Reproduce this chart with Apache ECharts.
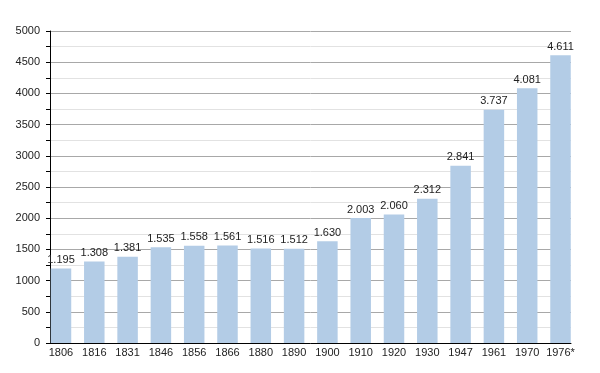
<!DOCTYPE html>
<html>
<head>
<meta charset="utf-8">
<script src="https://cdn.jsdelivr.net/npm/echarts@6/dist/echarts.min.js"></script>
<style>html,body{margin:0;padding:0;background:#fff}#c{width:600px;height:373px}</style>
</head>
<body>
<div id="c"></div>
<script>
const years = ['1806','1816','1831','1846','1856','1866','1880','1890','1900','1910','1920','1930','1947','1961','1970','1976*'];
const population = [1195,1308,1381,1535,1558,1561,1516,1512,1630,2003,2060,2312,2841,3737,4081,4611];
const yTicks = [0,500,1000,1500,2000,2500,3000,3500,4000,4500,5000];

const font = '"Liberation Sans", Arial, Helvetica, sans-serif';
const chart = echarts.init(document.getElementById('c'));
const idx = years.map((y,i)=>i);
const yMin = yTicks[0], yMax = yTicks[yTicks.length-1];
chart.setOption({
  animation: false,
  grid: {left: 50, right: 29, top: 31, bottom: 30},
  xAxis: {
    type: 'value', min: -0.33, max: 15.315,
    axisLine: {show: true, onZero: false, lineStyle: {color: '#000', width: 1}},
    axisTick: {show: false},
    splitLine: {show: false},
    axisLabel: {customValues: idx, formatter: v => years[Math.round(v)], margin: 4,
      fontFamily: font, fontSize: 11, color: '#222'}
  },
  yAxis: {
    type: 'value', min: yMin, max: yMax, interval: 500, position: 'left',
    axisLine: {show: true, onZero: false, lineStyle: {color: '#000', width: 1}},
    axisTick: {show: true, inside: false, length: 4, lineStyle: {color: '#000'}},
    minorTick: {show: true, splitNumber: 2, length: 4, lineStyle: {color: '#000'}},
    splitLine: {show: true, lineStyle: {color: '#a8a8a8', width: 1}},
    minorSplitLine: {show: true, lineStyle: {color: '#e2e2e2', width: 1}},
    axisLabel: {margin: 10, fontFamily: font, fontSize: 11, color: '#222', formatter: v => String(v)}
  },
  series: [{
    type: 'bar',
    data: population.map((v,i)=>[i, v]),
    barWidth: 20.5,
    itemStyle: {color: '#b3cce6'},
    label: {show: true, position: 'top', distance: 3, fontFamily: font, fontSize: 11, color: '#222',
      formatter: p => String(p.value[1]).replace(/\B(?=(\d{3})+(?!\d))/g, '.')}
  }]
});
</script>
</body>
</html>
